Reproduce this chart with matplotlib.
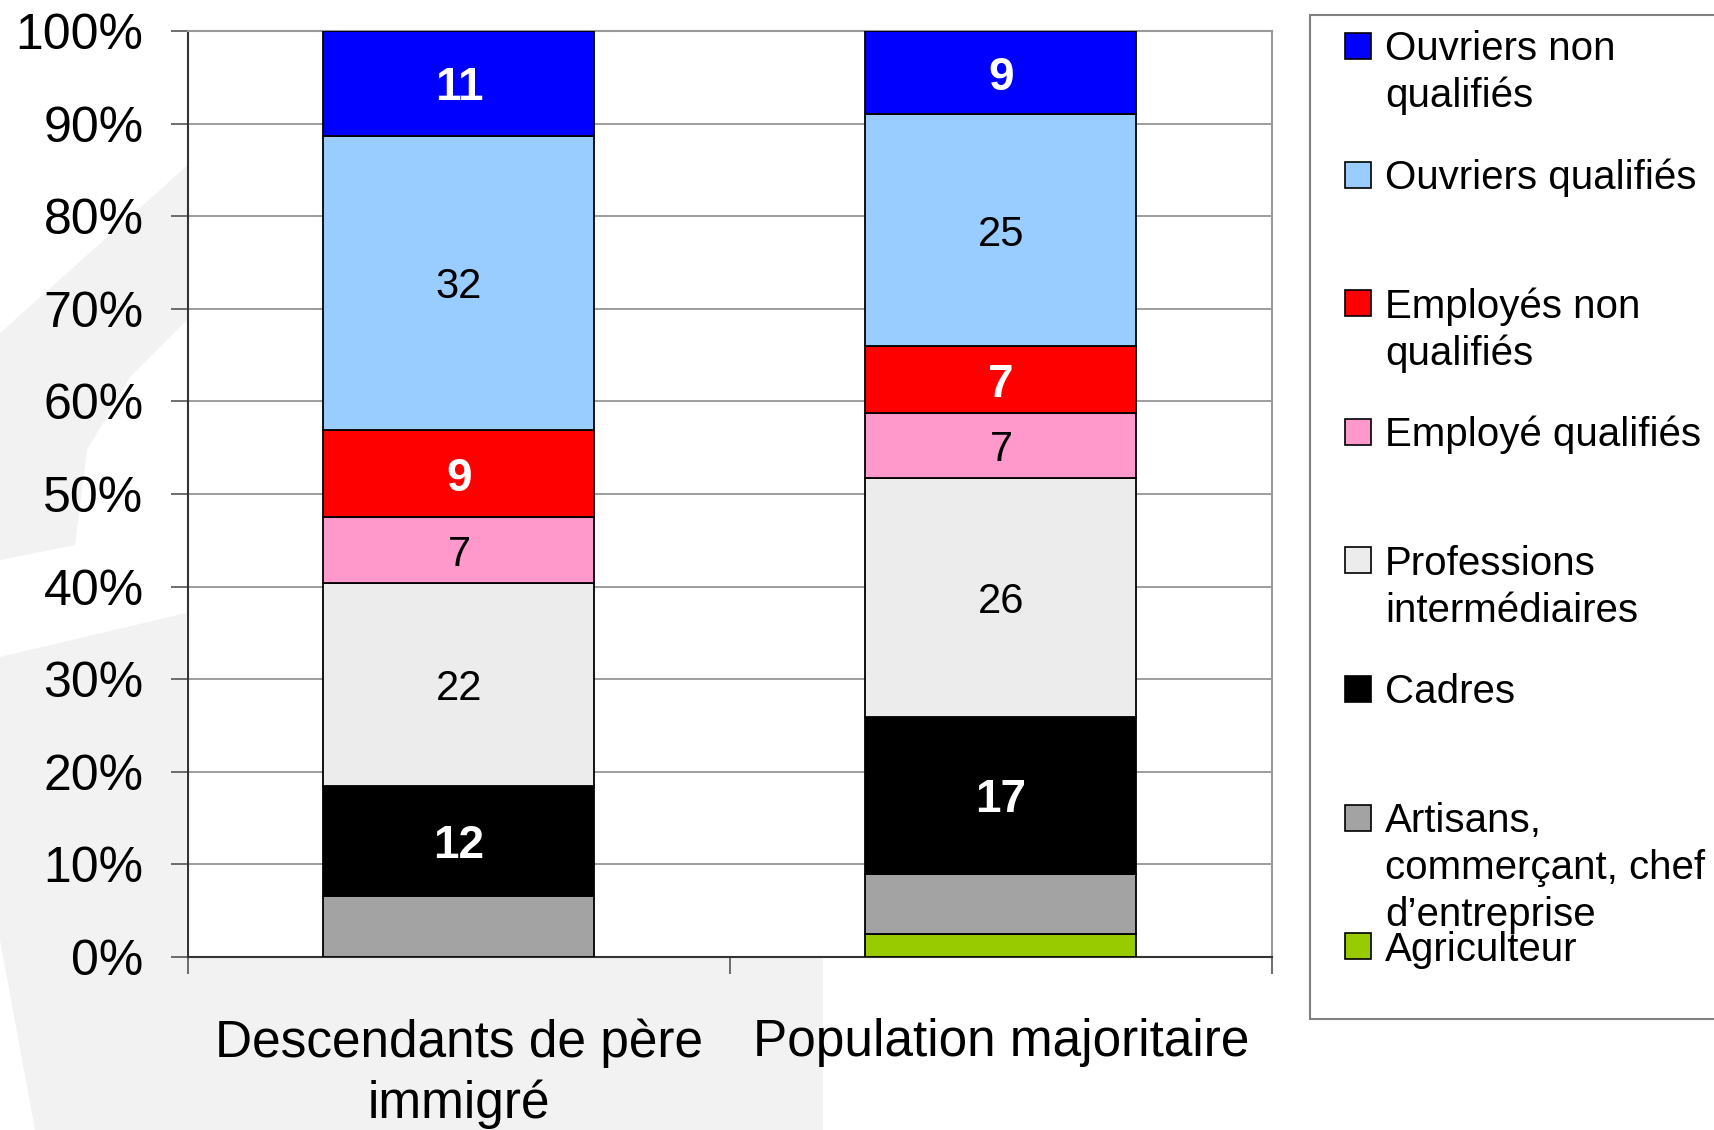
import matplotlib
matplotlib.use("Agg")
import matplotlib.pyplot as plt
from matplotlib.patches import Rectangle, Polygon
import numpy as np

plt.rcParams['font.family'] = ['Liberation Sans', 'DejaVu Sans']

# categories on the x axis
categories = ["Descendants de père\nimmigré", "Population majoritaire"]

# shares (%) per group, bottom to top of the stack
agriculteur = [0.0, 2.5]
artisans = [6.6, 6.5]
cadres = [11.9, 16.9]
prof_inter = [21.9, 25.8]
employe_q = [7.1, 7.0]
employe_nq = [9.4, 7.3]
ouvrier_q = [31.8, 25.0]
ouvrier_nq = [11.3, 9.0]

series = [agriculteur, artisans, cadres, prof_inter, employe_q, employe_nq, ouvrier_q, ouvrier_nq]
series_names = ["Agriculteur", "Artisans,\ncommerçant, chef\nd\u2019entreprise", "Cadres",
                "Professions\nintermédiaires", "Employé qualifiés", "Employés non\nqualifiés",
                "Ouvriers qualifiés", "Ouvriers non\nqualifiés"]
colors = ["#99cc00", "#a3a3a3", "#000000", "#ececec", "#ff99cc", "#ff0000", "#99ccff", "#0000ff"]
show_label = [False, False, True, True, True, True, True, True]
white_bold = [False, False, True, False, False, True, False, True]

W, H = 1715, 1130
fig = plt.figure(figsize=(W / 100, H / 100), dpi=100)


def fx(x):
    return x / W


def fy(y):
    return 1 - y / H


# faint background watermark (pixel outline of the slide decoration)
wm = [
    [(190, 163), (0, 333), (0, 560), (75, 545), (87, 450), (130, 377), (190, 317)],
    [(0, 657), (186, 613), (186, 957), (823, 957), (823, 1130), (35, 1130), (0, 940)],
]
for poly in wm:
    fig.patches.append(Polygon([(fx(a), fy(b)) for a, b in poly], closed=True,
                               facecolor="#f2f2f2", edgecolor="none",
                               transform=fig.transFigure, zorder=-5))

ax = fig.add_axes([fx(188), fy(957), fx(1272) - fx(188), fy(31) - fy(957)])
ax.set_facecolor("white")

data = np.array(series)
data = data / data.sum(axis=0) * 100
x = np.arange(len(categories))
bottom = np.zeros(len(categories))
for vals, col, lab, wb in zip(data, colors, show_label, white_bold):
    ax.bar(x, vals, width=0.5, bottom=bottom, color=col, edgecolor="black",
           linewidth=1.3, zorder=3)
    if lab:
        for xi, v, b in zip(x, vals, bottom):
            ax.text(xi, b + v / 2, f"{v:.0f}", ha="center", va="center_baseline",
                    color="white" if wb else "black",
                    fontsize=33 if wb else 30,
                    fontweight="bold" if wb else "normal", zorder=4)
    bottom += vals

ax.set_xlim(-0.5, len(categories) - 0.5)
ax.set_ylim(0, 100)
ax.set_yticks(np.arange(0, 101, 10))
ax.set_yticklabels([f"{v}%" for v in range(0, 101, 10)], fontsize=36)
ax.yaxis.grid(True, color="#8c8c8c", linewidth=1.2, zorder=0)
ax.tick_params(axis="y", length=12, width=1.2, color="#555555", pad=20)

ax.set_xticks(x)
ax.set_xticklabels(categories, fontsize=37, linespacing=1.3)
ax.set_xticks(np.arange(-0.5, len(categories), 1), minor=True)
ax.tick_params(axis="x", which="major", length=0, pad=44)
ax.tick_params(axis="x", which="minor", length=12, width=1.2, color="#555555")

for s in ["left", "bottom"]:
    ax.spines[s].set_color("#333333")
    ax.spines[s].set_linewidth(1.5)
for s in ["right", "top"]:
    ax.spines[s].set_color("#999999")
    ax.spines[s].set_linewidth(1.5)

# legend box, drawn by hand to keep equal spacing like the original
fig.patches.append(Rectangle((fx(1310), fy(1019)), fx(1730) - fx(1310), fy(15) - fy(1019),
                             facecolor="white", edgecolor="#808080", linewidth=1.5,
                             transform=fig.transFigure, zorder=1))
em = 29 * 100 / 72
step = 128.6
for i, (name, col) in enumerate(reversed(list(zip(series_names, colors)))):
    cy = 46 + i * step
    fig.patches.append(Rectangle((fx(1345), fy(cy + 13)), fx(26), 26 / H,
                                 facecolor=col, edgecolor="black", linewidth=1.2,
                                 transform=fig.transFigure, zorder=2))
    for j, line in enumerate(name.split("\n")):
        fig.text(fx(1385), fy(cy + 0.358 * em + j * 47), line, fontsize=29,
                 ha="left", va="baseline", zorder=3)

fig.savefig("out.png", dpi=100)
